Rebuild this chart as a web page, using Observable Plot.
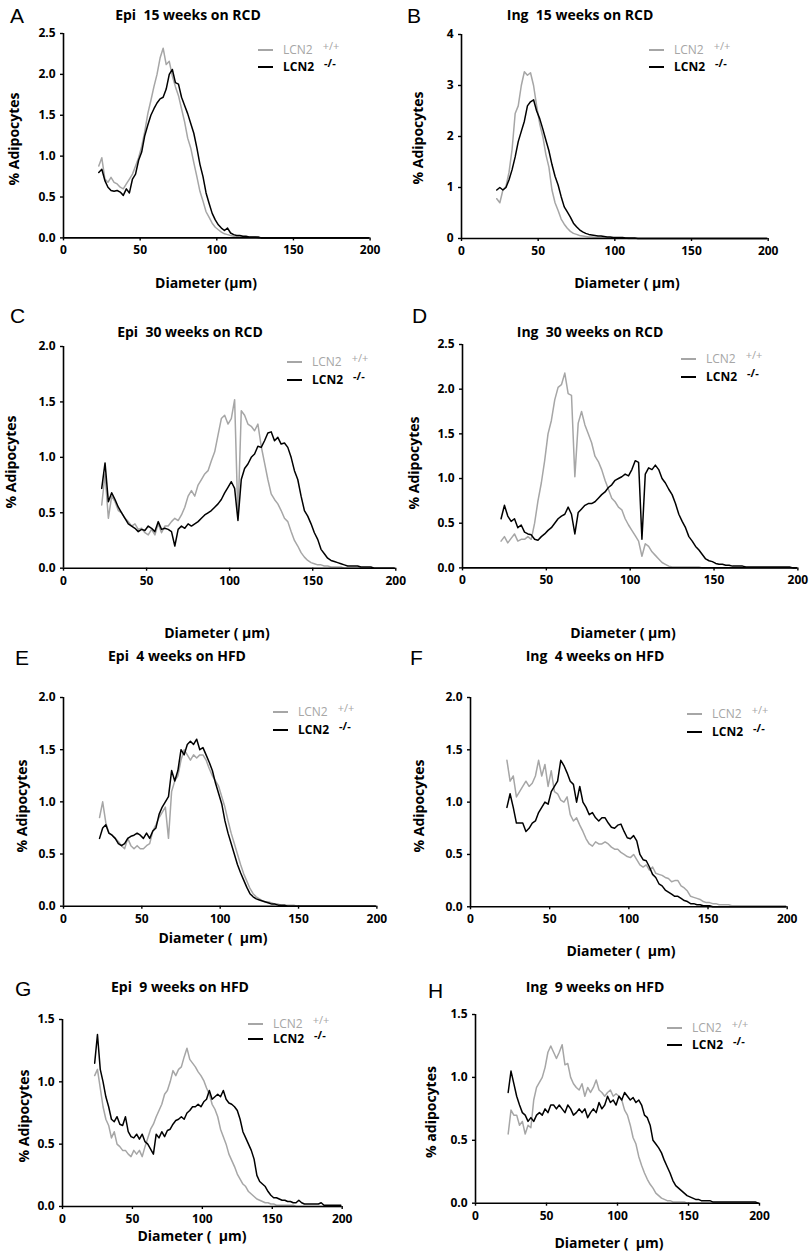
<!DOCTYPE html>
<html><head><meta charset="utf-8">
<script src="https://cdn.jsdelivr.net/npm/d3@7"></script>
<script src="https://cdn.jsdelivr.net/npm/@observablehq/plot@0.6"></script>
<style>
body{margin:0;background:#fff;}
#fig{position:relative;width:810px;height:1251px;background:#fff;font-family:"Open Sans",sans-serif;overflow:hidden;}
.abs{position:absolute;white-space:pre;line-height:1;}
.letter{font-family:"Liberation Sans",Arial,sans-serif;font-size:21px;transform:translateY(-50%);}
.title,.xlab{font-weight:700;font-size:14px;transform:translate(-50%,-50%);}
.ylab{font-weight:700;font-size:14px;transform:translate(-50%,-50%) rotate(-90deg);}
.legrow{display:flex;align-items:center;height:16px;font-size:12px;transform:translateY(-50%);}
.legrow .ln{display:inline-block;width:15px;height:2px;margin-right:10px;}
.legrow .sup{font-size:11px;position:relative;top:-5px;margin-left:10px;}
</style></head>
<body><div id="fig"></div>
<script>
// Diameter bins (µm)
const diameters = [23,25,27,29,31,33,35,37,39,41,43,45,47,49,51,53,55,57,59,61,63,65,67,69,71,73,75,77,79,81,83,85,87,89,91,93,95,97,99,101,103,105,107,109,111,113,115,117,119,121,123,125,127,129,131,133,135,137,139,141,143,145,147,149,151,153,155,157,159,161,163,165,167,169,171,173,175,177,179,181,183,185,187,189,191,193,195,197,199];

// % adipocytes, LCN2 +/+ (wt) and LCN2 -/- (ko)
const aWT = [0.88,0.98,0.72,0.68,0.74,0.68,0.66,0.62,0.60,0.66, 0.72,0.78,0.88,0.98,1.12,1.30,1.52,1.68,1.85,2.00, 2.20,2.32,2.12,2.16,1.98,1.85,1.74,1.58,1.42,1.22, 1.10,0.92,0.75,0.57,0.45,0.32,0.25,0.18,0.13,0.10, 0.07,0.05,0.04,0.03,0.02,0.02,0.01,0.01,0.01,0.01, 0.01,0.01,0,0,0,0,0,0,0,0, 0,0,0,0,0,0,0,0,0,0, 0,0,0,0,0,0,0,0,0,0, 0,0,0,0,0,0,0,0,0];
const aKO = [0.80,0.84,0.70,0.62,0.58,0.57,0.58,0.56,0.52,0.60, 0.55,0.72,0.78,0.95,1.05,1.25,1.38,1.50,1.58,1.65, 1.70,1.72,1.82,2.00,2.06,1.90,1.88,1.72,1.62,1.52, 1.40,1.28,1.10,0.90,0.75,0.55,0.42,0.30,0.22,0.16, 0.12,0.09,0.12,0.06,0.04,0.03,0.03,0.02,0.02,0.01, 0.01,0.01,0.01,0,0,0,0,0,0,0, 0,0,0,0,0,0,0,0,0,0, 0,0,0,0,0,0,0,0,0,0, 0,0,0,0,0,0,0,0,0];
const bWT = [0.78,0.70,0.95,1.02,1.30,1.75,2.45,2.60,3.00,3.27, 3.20,3.25,3.00,2.60,2.25,2.00,1.65,1.40,0.95,0.70, 0.55,0.38,0.28,0.20,0.14,0.10,0.08,0.06,0.05,0.04, 0.03,0.03,0.02,0.02,0.02,0.01,0.01,0.01,0.01,0.01, 0.01,0.01,0.01,0,0,0,0,0,0,0, 0,0,0,0,0,0,0,0,0,0, 0,0,0,0,0,0,0,0,0,0, 0,0,0,0,0,0,0,0,0,0, 0,0,0,0,0,0,0,0,0];
const bKO = [0.95,1.00,0.95,1.00,1.15,1.35,1.60,1.90,2.10,2.30, 2.60,2.68,2.72,2.50,2.35,2.15,1.93,1.72,1.45,1.22, 1.05,0.82,0.62,0.52,0.42,0.30,0.23,0.17,0.13,0.10, 0.08,0.07,0.06,0.05,0.05,0.04,0.03,0.03,0.02,0.02, 0.02,0.02,0.01,0.01,0.01,0.01,0,0,0,0, 0,0,0,0,0,0,0,0,0,0, 0,0,0,0,0,0,0,0,0,0, 0,0,0,0,0,0,0,0,0,0, 0,0,0,0,0,0,0,0,0];
const cWT = [0.57,0.85,0.45,0.65,0.60,0.52,0.50,0.45,0.42,0.38, 0.40,0.35,0.36,0.32,0.30,0.35,0.30,0.40,0.32,0.38, 0.38,0.42,0.45,0.43,0.48,0.55,0.65,0.70,0.65,0.75, 0.80,0.85,0.88,0.97,1.05,1.20,1.35,1.38,1.30,1.35, 1.52,0.45,1.42,1.38,1.30,1.28,1.24,1.30,1.10,0.95, 0.80,0.67,0.62,0.58,0.52,0.45,0.42,0.33,0.25,0.20, 0.14,0.10,0.07,0.05,0.04,0.03,0.03,0.02,0.02,0.01, 0.01,0.01,0.01,0,0,0,0,0,0,0, 0,0,0,0,0,0,0,0,0];
const cKO = [0.72,0.95,0.60,0.68,0.62,0.55,0.50,0.45,0.40,0.38, 0.36,0.33,0.35,0.34,0.38,0.36,0.33,0.42,0.35,0.36, 0.35,0.33,0.20,0.35,0.38,0.36,0.40,0.38,0.40,0.42, 0.45,0.48,0.50,0.52,0.55,0.58,0.62,0.68,0.73,0.78, 0.72,0.43,0.80,0.90,0.94,1.00,1.03,1.10,1.09,1.15, 1.22,1.23,1.15,1.18,1.12,1.13,1.09,1.00,0.88,0.80, 0.65,0.52,0.47,0.40,0.32,0.26,0.17,0.13,0.09,0.07, 0.06,0.05,0.04,0.03,0.02,0.02,0.02,0.02,0.01,0.01, 0.01,0.01,0,0,0,0,0,0,0];
const dWT = [0.30,0.35,0.28,0.33,0.38,0.30,0.32,0.32,0.35,0.32, 0.50,0.75,0.95,1.20,1.50,1.65,1.88,2.02,2.05,2.18, 1.95,1.93,1.02,1.62,1.75,1.60,1.50,1.40,1.25,1.19, 1.10,0.98,0.88,0.78,0.74,0.68,0.65,0.55,0.48,0.42, 0.36,0.30,0.13,0.27,0.24,0.18,0.14,0.10,0.06,0.04, 0.02,0.01,0.01,0.01,0.01,0.01,0.01,0.01,0.01,0.01, 0,0,0,0,0,0,0,0,0,0, 0,0,0,0,0,0,0,0,0,0, 0,0,0,0,0,0,0,0,0];
const dKO = [0.55,0.70,0.58,0.52,0.55,0.45,0.48,0.40,0.38,0.37, 0.32,0.31,0.35,0.38,0.42,0.45,0.50,0.55,0.58,0.60, 0.68,0.60,0.38,0.62,0.66,0.70,0.72,0.72,0.74,0.78, 0.82,0.85,0.90,0.93,0.98,1.00,1.02,1.05,1.03,1.10, 1.20,1.18,0.32,1.05,1.12,1.10,1.15,1.10,1.00,0.95, 0.88,0.82,0.72,0.60,0.52,0.45,0.35,0.30,0.24,0.20, 0.15,0.10,0.08,0.07,0.05,0.04,0.04,0.03,0.03,0.02, 0.02,0.02,0.02,0.01,0.01,0.01,0.01,0.01,0.01,0.01, 0.01,0.01,0.01,0.01,0.01,0.01,0.01,0,0];
const eWT = [0.85,1.00,0.80,0.70,0.68,0.65,0.62,0.58,0.55,0.65, 0.58,0.55,0.58,0.55,0.55,0.58,0.60,0.72,0.78,0.85, 0.90,0.95,0.65,1.10,1.20,1.25,1.40,1.50,1.45,1.40, 1.45,1.42,1.45,1.45,1.40,1.32,1.25,1.20,1.15,1.05, 0.95,0.82,0.70,0.60,0.50,0.40,0.31,0.24,0.17,0.12, 0.09,0.07,0.05,0.04,0.04,0.03,0.02,0.02,0.01,0.01, 0.01,0.01,0.01,0,0,0,0,0,0,0, 0,0,0,0,0,0,0,0,0,0, 0,0,0,0,0,0,0,0,0];
const eKO = [0.65,0.75,0.78,0.70,0.68,0.65,0.60,0.58,0.60,0.65, 0.67,0.68,0.70,0.68,0.65,0.70,0.65,0.72,0.75,0.88, 0.95,1.00,1.05,1.30,1.20,1.30,1.50,1.45,1.55,1.58, 1.55,1.60,1.50,1.52,1.45,1.38,1.30,1.18,1.08,0.98, 0.82,0.70,0.60,0.50,0.40,0.32,0.25,0.18,0.12,0.09, 0.07,0.06,0.05,0.04,0.03,0.02,0.02,0.01,0.01,0.01, 0,0,0,0,0,0,0,0,0,0, 0,0,0,0,0,0,0,0,0,0, 0,0,0,0,0,0,0,0,0];
const fWT = [1.40,1.20,1.25,1.05,1.10,1.15,1.20,1.15,1.18,1.25, 1.40,1.25,1.36,1.15,1.30,1.10,1.08,1.02,1.00,1.05, 0.88,0.82,0.85,0.78,0.72,0.65,0.60,0.58,0.62,0.60, 0.60,0.62,0.60,0.57,0.55,0.55,0.52,0.50,0.48,0.47, 0.50,0.45,0.40,0.38,0.40,0.35,0.38,0.32,0.31,0.30, 0.28,0.27,0.24,0.25,0.25,0.20,0.18,0.15,0.10,0.09, 0.08,0.07,0.05,0.04,0.04,0.03,0.03,0.02,0.02,0.02, 0.02,0.01,0.01,0.01,0.01,0.01,0.01,0.01,0.01,0.01, 0.01,0.01,0.01,0.01,0.01,0.01,0.01,0.01,0.01];
const fKO = [0.95,1.08,0.95,0.80,0.80,0.80,0.72,0.75,0.80,0.82, 0.90,0.95,1.00,0.98,1.10,1.15,1.20,1.40,1.35,1.28, 1.20,1.17,1.00,1.15,1.00,0.95,0.88,0.90,0.85,0.82, 0.85,0.85,0.80,0.76,0.75,0.78,0.79,0.72,0.66,0.65, 0.68,0.63,0.50,0.45,0.44,0.38,0.31,0.28,0.22,0.20, 0.16,0.14,0.12,0.10,0.10,0.08,0.06,0.05,0.03,0.03, 0.02,0.02,0.01,0.01,0.01,0,0,0,0,0, 0,0,0,0,0,0,0,0,0,0, 0,0,0,0,0,0,0,0,0];
const gWT = [1.05,1.10,0.95,0.80,0.70,0.65,0.55,0.60,0.50,0.48, 0.45,0.45,0.42,0.40,0.45,0.42,0.45,0.40,0.48,0.55, 0.62,0.66,0.72,0.77,0.82,0.90,0.93,1.00,1.09,1.05, 1.10,1.12,1.20,1.27,1.18,1.15,1.12,1.08,1.05,1.01, 0.95,0.90,0.82,0.78,0.72,0.62,0.56,0.50,0.42,0.37, 0.32,0.26,0.22,0.18,0.16,0.12,0.10,0.08,0.06,0.05, 0.04,0.03,0.03,0.02,0.02,0.01,0.01,0.01,0.01,0.01, 0.01,0.01,0,0,0,0,0,0,0,0, 0,0,0,0,0,0,0,0,0];
const gKO = [1.15,1.38,1.10,1.00,0.88,0.80,0.70,0.68,0.72,0.66, 0.65,0.72,0.60,0.56,0.55,0.58,0.54,0.58,0.52,0.50, 0.46,0.42,0.58,0.55,0.60,0.56,0.61,0.62,0.66,0.69, 0.70,0.72,0.70,0.75,0.77,0.80,0.80,0.82,0.80,0.84, 0.86,0.93,0.86,0.88,0.90,0.88,0.93,0.86,0.83,0.82, 0.80,0.77,0.70,0.60,0.55,0.50,0.45,0.38,0.25,0.20, 0.18,0.16,0.12,0.09,0.07,0.07,0.06,0.05,0.05,0.04, 0.04,0.03,0.03,0.05,0.03,0.02,0.02,0.02,0.02,0.02, 0.02,0.03,0.01,0.01,0.01,0.01,0.01,0.01,0.01];
const hWT = [0.55,0.74,0.70,0.70,0.62,0.65,0.55,0.62,0.60,0.82, 0.92,0.96,1.00,1.08,1.20,1.25,1.20,1.15,1.20,1.26, 1.10,1.11,1.00,0.95,0.92,0.90,0.95,0.85,0.92,0.88, 0.92,0.98,0.90,0.88,0.85,0.88,0.90,0.85,0.87,0.85, 0.82,0.74,0.70,0.62,0.52,0.47,0.37,0.30,0.24,0.19, 0.15,0.12,0.08,0.06,0.04,0.03,0.02,0.02,0.01,0.01, 0.01,0.01,0.01,0,0,0,0,0,0,0, 0,0,0,0,0,0,0,0,0,0, 0,0,0,0,0,0,0,0,0];
const hKO = [0.88,1.05,0.95,0.85,0.78,0.72,0.70,0.65,0.68,0.65, 0.70,0.72,0.70,0.75,0.72,0.78,0.78,0.75,0.78,0.75, 0.72,0.78,0.75,0.70,0.72,0.75,0.72,0.75,0.68,0.72, 0.75,0.72,0.80,0.75,0.78,0.85,0.80,0.82,0.78,0.85, 0.82,0.88,0.85,0.82,0.84,0.80,0.82,0.78,0.70,0.68, 0.62,0.50,0.47,0.44,0.40,0.34,0.29,0.24,0.18,0.14, 0.12,0.10,0.08,0.06,0.05,0.04,0.03,0.03,0.02,0.02, 0.02,0.02,0.01,0.01,0.01,0.01,0.01,0.01,0.01,0.01, 0.01,0.01,0.01,0.01,0.01,0.01,0.01,0.01,0];

const xTicks = [0, 50, 100, 150, 200];
const titles = ["Epi  15 weeks on RCD","Ing  15 weeks on RCD","Epi  30 weeks on RCD","Ing  30 weeks on RCD","Epi  4 weeks on HFD","Ing  4 weeks on HFD","Epi  9 weeks on HFD","Ing  9 weeks on HFD"];
const letters = ["A","B","C","D","E","F","G","H"];
const xLabels = ["Diameter (µm)","Diameter ( µm)","Diameter ( µm)","Diameter ( µm)","Diameter (  µm)","Diameter (  µm)","Diameter (  µm)","Diameter (  µm)"];
const yLabels = ["% Adipocytes","% Adipocytes","% Adipocytes","% Adipocytes","% Adipocytes","% Adipocytes","% Adipocytes","% adipocytes"];
const yMax = [2.5, 4, 2.0, 2.5, 2.0, 2.0, 1.5, 1.5];
const yTicks = [[0,0.5,1,1.5,2,2.5],[0,1,2,3,4],[0,0.5,1,1.5,2],[0,0.5,1,1.5,2,2.5],[0,0.5,1,1.5,2],[0,0.5,1,1.5,2],[0,0.5,1,1.5],[0,0.5,1,1.5]];
const legendNames = ["LCN2", "LCN2"];
const genotypes = ["+/+", "-/-"];
const wtSeries = [aWT,bWT,cWT,dWT,eWT,fWT,gWT,hWT];
const koSeries = [aKO,bKO,cKO,dKO,eKO,fKO,gKO,hKO];

// layout (pixels)
const layout = [
  {frame:[62.7,369.3,33.3,237.7], letter:[10,15], title:[188,15], leg:[258,50,67], xl:[206,283], yl:[14,139]},
  {frame:[461,767.7,34.3,238.3], letter:[407,15], title:[580,15], leg:[649,50,67], xl:[627,283], yl:[418,138]},
  {frame:[62.7,395,346,567.7], letter:[10,315], title:[190,332], leg:[287,362,380], xl:[217,633], yl:[11,462]},
  {frame:[462.3,797.7,344.3,567.7], letter:[412,315], title:[590,332], leg:[681,359,377], xl:[623,633], yl:[414,463]},
  {frame:[63.3,376.7,697.3,906], letter:[15,657], title:[177,656], leg:[273,712,730], xl:[213,938], yl:[22,806]},
  {frame:[470,786.7,696.7,906], letter:[410,657], title:[595,656], leg:[687,714,732], xl:[621,951], yl:[419,806]},
  {frame:[62,341.7,1019,1206], letter:[15,988], title:[180,987], leg:[248,1024,1039], xl:[192,1236], yl:[24,1116]},
  {frame:[475,759,1014,1202.7], letter:[428,990], title:[595,987], leg:[667,1028,1045], xl:[609,1243], yl:[431,1112]}
];

const fig = document.getElementById("fig");
const GRAY = "#a6a6a6";

function addDiv(cls, text, x, y, extra) {
  const d = document.createElement("div");
  d.className = "abs " + cls;
  d.textContent = text;
  d.style.left = x + "px";
  d.style.top = y + "px";
  if (extra) Object.assign(d.style, extra);
  fig.appendChild(d);
  return d;
}

function legendRow(x, y, color, bold, name, geno) {
  const r = document.createElement("div");
  r.className = "abs legrow";
  r.style.left = x + "px";
  r.style.top = y + "px";
  r.style.color = color;
  r.style.fontWeight = bold ? "700" : "400";
  const ln = document.createElement("span"); ln.className = "ln"; ln.style.background = color;
  const t = document.createElement("span"); t.textContent = name;
  const s = document.createElement("span"); s.className = "sup"; s.textContent = geno;
  r.append(ln, t, s);
  fig.appendChild(r);
}

layout.forEach((L, i) => {
  const [x0, x1, yT, yB] = L.frame;
  const mL = 48, mR = 14, mT = 10, mB = 28;
  const wt = diameters.map((d, j) => ({d, v: wtSeries[i][j]}));
  const ko = diameters.map((d, j) => ({d, v: koSeries[i][j]}));
  const fmt = yMax[i] === 4 ? d3.format("d") : d3.format(".1f");
  const svg = Plot.plot({
    width: x1 - x0 + mL + mR,
    height: yB - yT + mT + mB,
    marginLeft: mL, marginRight: mR, marginTop: mT, marginBottom: mB,
    x: {domain: [0, 200]},
    y: {domain: [0, yMax[i]]},
    style: {fontFamily: '"Open Sans", sans-serif', fontSize: "12px", fontWeight: "bold", color: "#000", background: "transparent", overflow: "visible"},
    marks: [
      Plot.line(wt, {x: "d", y: "v", stroke: GRAY, strokeWidth: 1.5}),
      Plot.line(ko, {x: "d", y: "v", stroke: "#000", strokeWidth: 1.5}),
      Plot.ruleY([0], {stroke: "#000", strokeWidth: 1.6}),
      Plot.ruleX([0], {stroke: "#000", strokeWidth: 1.6}),
      Plot.axisX(xTicks, {tickSize: 3, tickPadding: 5, label: null, tickFormat: d3.format("d"), strokeWidth: 1.4}),
      Plot.axisY(yTicks[i], {tickSize: 3, tickPadding: 5, label: null, tickFormat: fmt, strokeWidth: 1.4})
    ]
  });
  svg.style.position = "absolute";
  svg.style.left = (x0 - mL) + "px";
  svg.style.top = (yT - mT) + "px";
  fig.appendChild(svg);

  addDiv("letter", letters[i], L.letter[0], L.letter[1]);
  addDiv("title", titles[i], L.title[0], L.title[1]);
  addDiv("xlab", xLabels[i], L.xl[0], L.xl[1]);
  addDiv("ylab", yLabels[i], L.yl[0], L.yl[1]);
  legendRow(L.leg[0], L.leg[1], GRAY, false, legendNames[0], genotypes[0]);
  legendRow(L.leg[0], L.leg[2], "#000", true, legendNames[1], genotypes[1]);
});
</script>
</body></html>
